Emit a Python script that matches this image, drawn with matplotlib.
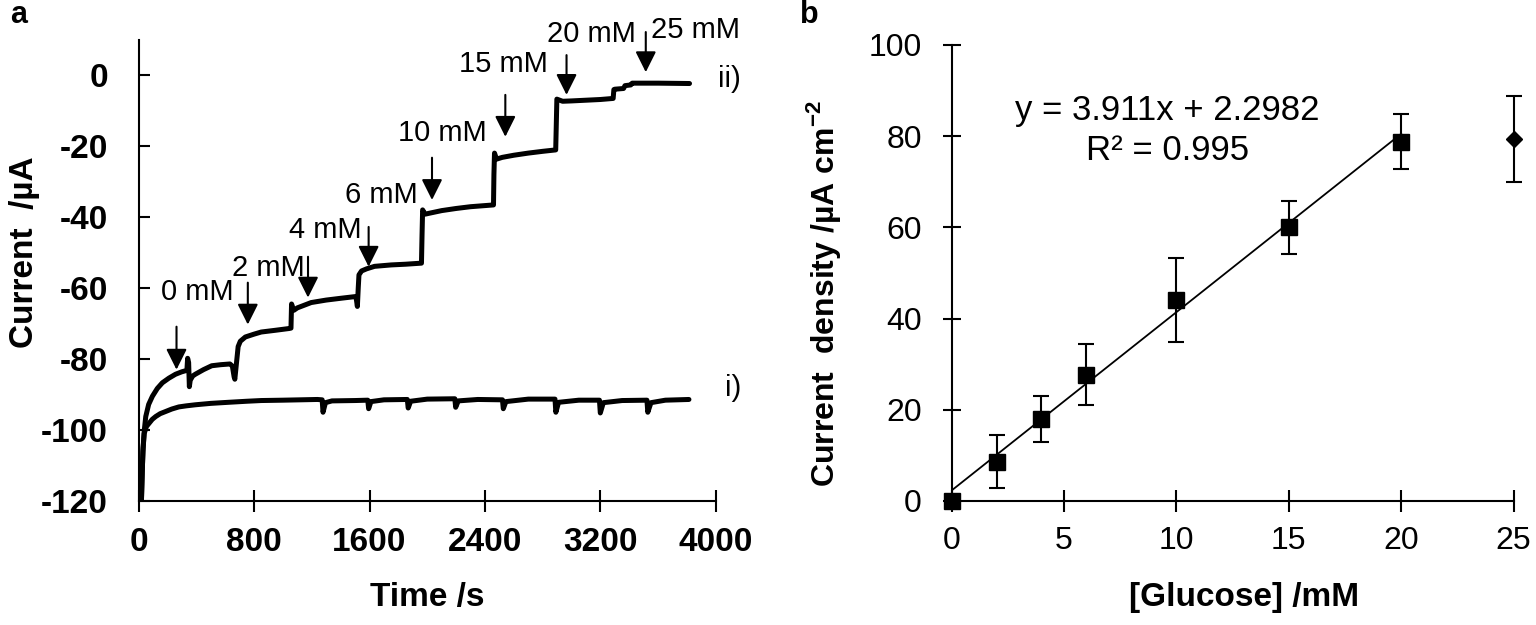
import matplotlib
matplotlib.use('Agg')
import matplotlib.pyplot as plt

plt.rcParams['font.family'] = ['Liberation Sans', 'DejaVu Sans']
plt.rcParams['axes.unicode_minus'] = False
plt.rcParams['mathtext.fontset'] = 'custom'
plt.rcParams['mathtext.rm'] = 'Liberation Sans'
plt.rcParams['mathtext.bf'] = 'Liberation Sans:bold'

# ---- panel a: amperometric traces (time in s, current in uA) ----
t_ii = [20, 25, 30, 40, 50, 70, 96, 130, 165, 210, 256, 300, 335,
        340, 347, 352, 358, 375, 393, 450, 507, 570, 633, 650, 662, 667,
        690, 705, 740, 800, 850, 950, 1045, 1056, 1060, 1075, 1100, 1196,
        1300, 1400, 1505, 1510, 1516, 1522, 1527, 1545, 1580, 1635, 1750,
        1850, 1960, 1964, 1968, 1985, 2019, 2100, 2200, 2300, 2459, 2462,
        2466, 2480, 2520, 2600, 2700, 2800, 2890, 2894, 2898, 2938, 3000,
        3100, 3200, 3288, 3293, 3300, 3360, 3370, 3410, 3420, 3600, 3817]
i_ii = [-120, -113, -106, -100, -96.2, -92.8, -90.5, -88.3, -86.7, -85.4, -84.3, -83.6, -83.2,
        -79.8, -81.0, -87.8, -86.0, -84.8, -84.3, -83.0, -81.9, -81.6, -81.4, -82.0, -85.0, -85.7,
        -76.5, -75.0, -73.8, -73.0, -72.4, -71.9, -71.4, -71.3, -64.5, -66.3, -65.6, -64.1,
        -63.4, -62.9, -62.4, -63.5, -65.2, -60.0, -56.3, -55.2, -54.6, -53.9, -53.5,
        -53.3, -53.0, -45.0, -38.0, -39.2, -38.9, -38.2, -37.6, -37.1, -36.6, -28.0,
        -22.0, -23.7, -23.2, -22.6, -22.0, -21.5, -21.1, -14.0, -6.8, -7.4, -7.3,
        -7.1, -6.9, -6.6, -4.1, -4.0, -3.8, -3.0, -2.8, -2.3, -2.3, -2.4]

t_i = [20, 25, 32, 39, 55, 73, 95, 119, 150, 187, 230, 279, 330, 393, 500,
       622, 750, 850, 1000, 1239, 1272, 1278, 1295, 1340, 1500, 1588, 1594,
       1610, 1700, 1862, 1868, 1885, 2000, 2191, 2197, 2215, 2350, 2521, 2527,
       2545, 2700, 2885, 2891, 2910, 3050, 3193, 3199, 3220, 3350, 3522, 3528,
       3550, 3650, 3813]
i_i = [-120, -112, -105, -101, -99.0, -98.1, -97.0, -96.2, -95.4, -94.8, -94.1, -93.5, -93.2, -92.9, -92.5,
       -92.2, -91.9, -91.7, -91.6, -91.4, -91.5, -95.0, -92.3, -91.8, -91.7, -91.6, -94.0,
       -92.0, -91.5, -91.4, -93.8, -91.9, -91.3, -91.2, -93.6, -91.8, -91.4, -91.5, -94.0,
       -92.0, -91.3, -91.3, -95.0, -92.2, -91.6, -91.6, -95.2, -92.3, -91.7, -91.6, -95.0,
       -92.3, -91.6, -91.4]

# glucose additions: arrow x, arrow top, arrow tip
arrow_t = [263, 757, 1174, 1594, 2033, 2541, 2965, 3514]
arrow_top = [-70.9, -58.5, -51.2, -42.8, -23.3, -5.6, 5.6, 12.1]
arrow_tip = [-83.0, -70.3, -62.7, -54.0, -35.2, -17.4, -5.6, 0.8]

conc_labels = ['0 mM', '2 mM', '4 mM', '6 mM', '10 mM', '15 mM', '20 mM', '25 mM']
label_t = [407, 901, 1292, 1683, 2108, 2526, 3137, 3857]
label_i = [-63.3, -56.7, -45.9, -36.1, -18.7, 0.9, 9.4, 10.3]

# ---- panel b: calibration ----
conc = [0, 2, 4, 6, 10, 15, 20]
dens = [0, 8.6, 18.0, 27.7, 44.0, 60.0, 78.8]
dens_err = [0, 5.8, 5.0, 6.65, 9.2, 5.85, 6.0]
conc_out = [25]
dens_out = [79.3]
err_out = [9.45]
slope, intercept = 3.911, 2.2982
fit_x = [0, 20]

fig = plt.figure(figsize=(15.36, 6.25), dpi=100)
ax1 = fig.add_axes([0.0902, 0.1984, 0.3759, 0.7384])
ax2 = fig.add_axes([0.6195, 0.1984, 0.3659, 0.7296])

# panel a
for tt, ii in [(t_ii, i_ii), (t_i, i_i)]:
    ax1.plot(tt, ii, color='k', lw=3.6, solid_capstyle='round', solid_joinstyle='round')

for x, y0, y1 in zip(arrow_t, arrow_top, arrow_tip):
    ax1.annotate('', xy=(x, y1), xytext=(x, y0), annotation_clip=False,
                 arrowprops=dict(arrowstyle='-|>,head_length=0.9,head_width=0.45',
                                 color='k', lw=1.5, shrinkA=0, shrinkB=0, mutation_scale=14))

for s, x, y in zip(conc_labels, label_t, label_i):
    ax1.text(x, y, s, ha='center', va='baseline', fontsize=21)
ax1.text(4096, -3.3, 'ii)', ha='center', va='baseline', fontsize=21)
ax1.text(4120, -90.5, 'i)', ha='center', va='baseline', fontsize=21)

ax1.set_xlim(0, 4000)
ax1.set_ylim(-120, 10)
ax1.set_xticks(range(0, 4001, 800))
ax1.set_yticks(range(-120, 1, 20))
ax1.spines[['top', 'right']].set_visible(False)
for sp in ax1.spines.values():
    sp.set_linewidth(1.5)
ax1.tick_params(axis='x', direction='inout', length=16, width=1.5, pad=11, labelsize=24)
ax1.tick_params(axis='y', direction='in', length=8, width=1.5, pad=22, labelsize=24)
for lab in ax1.get_xticklabels() + ax1.get_yticklabels():
    lab.set_fontweight('bold')
ax1.set_xlabel('Time /s', fontsize=24, fontweight='bold')
ax1.set_ylabel('Current  /µA', fontsize=24, fontweight='bold')
ax1.xaxis.set_label_coords(0.5, -0.176)
ax1.yaxis.set_label_coords(-0.171, 0.54)

# panel b
ax2.plot(fit_x, [slope * x + intercept for x in fit_x], color='k', lw=1.3)
ax2.errorbar(conc[1:], dens[1:], yerr=dens_err[1:], fmt='none', ecolor='k',
             elinewidth=1.5, capsize=6, capthick=1.5)
ax2.plot(conc, dens, 's', color='k', ms=11, clip_on=False, zorder=5)
ax2.errorbar(conc_out, dens_out, yerr=err_out, fmt='none', ecolor='k',
             elinewidth=1.5, capsize=6, capthick=1.5, clip_on=False)
ax2.plot(conc_out, dens_out, 'D', color='k', ms=8, clip_on=False, zorder=5)

ax2.text(9.6, 83.5, 'y = 3.911x + 2.2982', ha='center', va='baseline', fontsize=25)
ax2.text(9.6, 74.8, 'R² = 0.995', ha='center', va='baseline', fontsize=25)

ax2.set_xlim(0, 25)
ax2.set_ylim(0, 100)
ax2.set_xticks(range(0, 26, 5))
ax2.set_yticks(range(0, 101, 20))
ax2.spines[['top', 'right']].set_visible(False)
for sp in ax2.spines.values():
    sp.set_linewidth(1.5)
ax2.tick_params(axis='x', direction='inout', length=16, width=1.5, pad=10, labelsize=23)
ax2.tick_params(axis='y', direction='inout', length=13, width=1.5, pad=15, labelsize=23)
ax2.set_xlabel('[Glucose] /mM', fontsize=24, fontweight='bold')
ax2.set_ylabel(r'Current  density /µA cm$^{\mathbf{-2}}$', fontsize=23, fontweight='bold')
ax2.xaxis.set_label_coords(0.52, -0.178)
ax2.yaxis.set_label_coords(-0.193, 0.455)

fig.text(10 / 1536, 0.963, 'a', fontsize=22, fontweight='bold')
fig.text(800 / 1536, 0.963, 'b', fontsize=22, fontweight='bold')

fig.savefig('out.png', dpi=100)
